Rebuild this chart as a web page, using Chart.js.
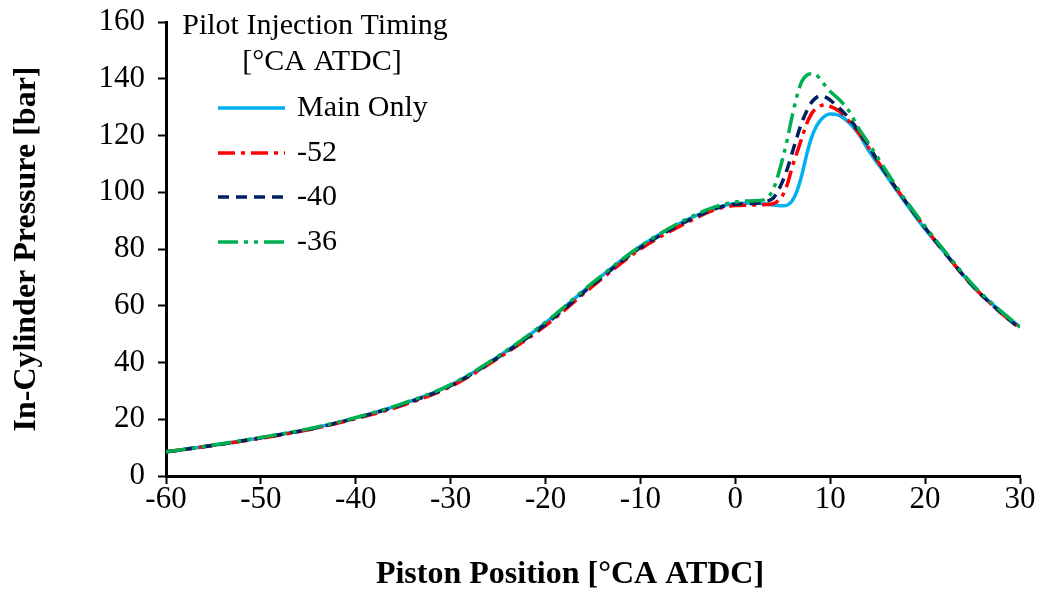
<!DOCTYPE html>
<html>
<head>
<meta charset="utf-8">
<script src="https://cdn.jsdelivr.net/npm/chart.js@4.4.1/dist/chart.umd.min.js"></script>
<style>
  html, body { margin: 0; padding: 0; background: #fff; }
  #wrap { width: 1043px; height: 592px; }
</style>
</head>
<body>
<div id="wrap"><canvas id="pressure"></canvas></div>
<script>
// ---------------------------------------------------------------
// In-cylinder pressure vs crank angle, pilot injection timing sweep
// ---------------------------------------------------------------
const FONT = '"Liberation Serif", "Times New Roman", serif';

const xTicks = [-60, -50, -40, -30, -20, -10, 0, 10, 20, 30];
const yTicks = [0, 20, 40, 60, 80, 100, 120, 140, 160];

const legendTitle = ['Pilot Injection Timing', '[\u00b0CA ATDC]'];
const seriesLabels = ['Main Only', '-52', '-40', '-36'];
const xTitle = 'Piston Position [\u00b0CA ATDC]';
const yTitle = 'In-Cylinder Pressure [bar]';

// Main Only
const main_x = [-60, -55, -50, -45, -40, -35, -30, -25, -20, -15, -10, -5, -2, 0, 2, 4, 5, 5.5, 6, 6.5, 7, 7.5, 8, 8.5, 9, 9.5, 10, 10.5, 11, 12, 13, 14, 16, 18, 20, 22, 25, 28, 30];
const main_y = [8.5, 10.8, 13.5, 16.5, 20.5, 25.5, 32, 42, 54, 68, 81, 90.5, 94.5, 96, 96.2, 95.5, 95.2, 95.5, 97, 100.5, 106, 113, 119, 123, 125.5, 127, 127.6, 127.5, 127, 124.5, 120.5, 115, 105.5, 96, 87, 79, 67, 58, 52.5];

// -52
const p52_x = [-60, -55, -50, -45, -40, -35, -30, -25, -20, -15, -10, -5, -2, 0, 2, 3, 4, 4.5, 5, 5.5, 6, 6.5, 7, 7.5, 8, 8.5, 9, 9.5, 10, 10.5, 11, 12, 13, 14, 16, 18, 20, 22, 25, 28, 30];
const p52_y = [8.5, 10.8, 13.3, 16.3, 20.2, 25, 31.5, 41.5, 53, 67, 80, 89.5, 94, 95.3, 95.5, 95.6, 96, 97, 99, 103, 109, 114, 119, 124, 127.5, 129.5, 130.5, 130.8, 130.3, 129.5, 128.5, 125, 121, 116, 106, 96.5, 87.5, 79, 67, 57.5, 52];

// -40
const p40_x = [-60, -55, -50, -45, -40, -35, -30, -25, -20, -15, -10, -5, -2, 0, 2, 3, 3.5, 4, 4.5, 5, 5.5, 6, 6.5, 7, 7.5, 8, 8.5, 9, 9.5, 10, 10.5, 11, 12, 13, 14, 16, 18, 20, 22, 25, 28, 30];
const p40_y = [8.5, 10.8, 13.5, 16.4, 20.4, 25.3, 31.8, 41.8, 53.5, 67.5, 80.5, 90, 94.3, 95.8, 96, 96.5, 97, 98, 100.5, 104, 108.5, 114, 119.5, 124.5, 128.5, 131.5, 133.3, 134, 133.5, 132.5, 131, 129.5, 126, 121.5, 116.5, 106, 96.5, 87.5, 79, 67, 57.5, 52];

// -36
const p36_x = [-60, -55, -50, -45, -40, -35, -30, -25, -20, -15, -10, -5, -2, 0, 2, 3, 3.5, 4, 4.5, 5, 5.5, 6, 6.5, 7, 7.5, 8, 8.5, 9, 9.5, 10, 10.5, 11, 12, 13, 14, 16, 18, 20, 22, 25, 28, 30];
const p36_y = [8.5, 10.9, 13.6, 16.6, 20.6, 25.6, 32.2, 42.2, 54.2, 68.2, 81, 90.8, 95, 96.6, 97, 97.3, 98.5, 101, 106, 112, 119, 127, 134, 139, 141.2, 141.8, 141.5, 139.5, 137.5, 135.5, 134, 132.5, 128.5, 122.5, 117.5, 107, 97, 88, 79.5, 67.5, 58, 52.5];

const pts = (xs, ys) => xs.map((x, i) => ({x: x, y: ys[i]}));

const datasets = [
    {label: seriesLabels[0], data: pts(main_x, main_y), borderColor: '#00B0F0', borderWidth: 3.5, borderDash: [], order: 3},
    {label: seriesLabels[1], data: pts(p52_x, p52_y), borderColor: '#FF0000', borderWidth: 3.5, borderDash: [17, 6, 4, 6], order: 2},
    {label: seriesLabels[2], data: pts(p40_x, p40_y), borderColor: '#002060', borderWidth: 3.5, borderDash: [11, 7], order: 1},
    {label: seriesLabels[3], data: pts(p36_x, p36_y), borderColor: '#00B050', borderWidth: 3.5, borderDash: [20, 6, 4, 6, 4, 6], order: 0}
];
datasets.forEach(d => {
    d.pointRadius = 0;
    d.fill = false;
    d.cubicInterpolationMode = 'monotone';
});

// legend drawn inside plot, top-left, with title on two lines; x title drawn here too
const insideLegend = {
    id: 'insideLegend',
    afterDraw(chart) {
        const ctx = chart.ctx;
        ctx.save();
        ctx.fillStyle = '#000';
        ctx.font = '30px ' + FONT;
        ctx.textAlign = 'center';
        ctx.textBaseline = 'middle';
        ctx.fillText(legendTitle[0], 315, 26);
        ctx.fillText(legendTitle[1], 322, 62);
        const rows = [108, 153, 197, 242];
        chart.data.datasets.forEach((ds, i) => {
            const y = rows[i];
            ctx.beginPath();
            ctx.strokeStyle = ds.borderColor;
            ctx.lineWidth = ds.borderWidth;
            ctx.setLineDash(ds.borderDash);
            ctx.moveTo(218, y);
            ctx.lineTo(285, y);
            ctx.stroke();
            ctx.setLineDash([]);
            ctx.textAlign = 'left';
            ctx.fillText(ds.label, 297, y);
        });
        ctx.font = 'bold 32px ' + FONT;
        ctx.textAlign = 'center';
        ctx.fillText(xTitle, 570, 575);
        ctx.restore();
    }
};

new Chart(document.getElementById('pressure'), {
    type: 'line',
    data: {datasets: datasets},
    options: {
        responsive: true,
        maintainAspectRatio: false,
        animation: false,
        layout: {padding: {top: 22, right: 23, left: 0, bottom: 0}},
        plugins: {legend: {display: false}, tooltip: {enabled: false}},
        scales: {
            x: {
                type: 'linear',
                min: -60, max: 30,
                afterBuildTicks: s => { s.ticks = xTicks.map(v => ({value: v})); },
                afterFit: s => { s.height = 116; s.paddingLeft = 0; s.paddingRight = 0; },
                border: {display: true, color: '#000', width: 3},
                grid: {display: true, drawOnChartArea: false, drawTicks: true, tickLength: 8, tickWidth: 2, tickColor: '#000'},
                ticks: {color: '#000', font: {family: FONT, size: 31}, padding: -3, maxRotation: 0},
                title: {display: false}
            },
            y: {
                min: 0, max: 160,
                afterBuildTicks: s => { s.ticks = yTicks.map(v => ({value: v})); },
                afterFit: s => { s.width = 166; s.paddingTop = 0; s.paddingBottom = 0; },
                border: {display: true, color: '#000', width: 3},
                grid: {display: true, drawOnChartArea: false, drawTicks: true, tickLength: 8, tickWidth: 2, tickColor: '#000'},
                ticks: {color: '#000', font: {family: FONT, size: 31}, padding: 13},
                title: {display: true, text: yTitle, color: '#000', font: {family: FONT, size: 32, weight: 'bold'}, padding: {top: 8, bottom: 0}}
            }
        }
    },
    plugins: [insideLegend]
});
</script>
</body>
</html>
